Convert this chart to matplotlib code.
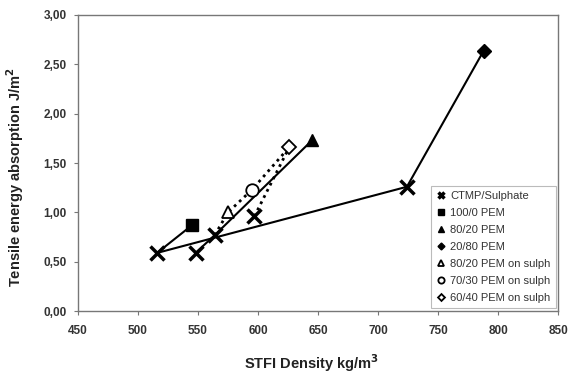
import matplotlib.pyplot as plt
from matplotlib.ticker import FuncFormatter, MultipleLocator

plt.rcParams['font.family'] = ['Liberation Sans', 'DejaVu Sans']

# CTMP/Sulphate reference points
ctmp_x = [516, 548, 564, 597, 724]
ctmp_y = [0.59, 0.59, 0.77, 0.96, 1.26]

# PEM samples
pem100_x, pem100_y = [545], [0.87]
pem8020_x, pem8020_y = [645], [1.73]
pem2080_x, pem2080_y = [788], [2.64]
sul8020_x, sul8020_y = [575], [1.00]
sul7030_x, sul7030_y = [595], [1.23]
sul6040_x, sul6040_y = [626], [1.66]

fig = plt.figure(figsize=(5.72, 3.74), dpi=100)
ax = fig.add_axes([0.136, 0.168, 0.84, 0.792])

lw = 1.5
# connecting lines
ax.plot([ctmp_x[0], pem100_x[0]], [ctmp_y[0], pem100_y[0]], color='black', lw=lw)
ax.plot([ctmp_x[0], ctmp_x[4], pem2080_x[0]], [ctmp_y[0], ctmp_y[4], pem2080_y[0]], color='black', lw=lw)
ax.plot([ctmp_x[1], ctmp_x[2], pem8020_x[0]], [ctmp_y[1], ctmp_y[2], pem8020_y[0]], color='black', lw=lw)
ax.plot([ctmp_x[2], sul8020_x[0], sul7030_x[0], sul6040_x[0]],
        [ctmp_y[2], sul8020_y[0], sul7030_y[0], sul6040_y[0]], color='black', lw=2, ls=(0, (1, 1.5)))
ax.plot([ctmp_x[3], sul6040_x[0]], [ctmp_y[3], sul6040_y[0]], color='black', lw=2, ls=(0, (1, 1.5)))

ax.plot(ctmp_x, ctmp_y, ls='none', marker='x', ms=10, mew=2.5, color='black', label='CTMP/Sulphate')
ax.plot(pem100_x, pem100_y, ls='none', marker='s', ms=9, color='black', label='100/0 PEM')
ax.plot(pem8020_x, pem8020_y, ls='none', marker='^', ms=9, color='black', label='80/20 PEM')
ax.plot(pem2080_x, pem2080_y, ls='none', marker='D', ms=7, color='black', label='20/80 PEM')
ax.plot(sul8020_x, sul8020_y, ls='none', marker='^', ms=9, mfc='white', mec='black', mew=1.3,
        label='80/20 PEM on sulph')
ax.plot(sul7030_x, sul7030_y, ls='none', marker='o', ms=9, mfc='white', mec='black', mew=1.3,
        label='70/30 PEM on sulph')
ax.plot(sul6040_x, sul6040_y, ls='none', marker='D', ms=7, mfc='white', mec='black', mew=1.3,
        label='60/40 PEM on sulph')

ax.set_xlim(450, 850)
ax.set_ylim(0, 3)
ax.xaxis.set_major_locator(MultipleLocator(50))
ax.yaxis.set_major_locator(MultipleLocator(0.5))
ax.yaxis.set_major_formatter(FuncFormatter(lambda v, p: f"{v:.2f}".replace('.', ',')))

for s in ax.spines.values():
    s.set_color('#777777')
    s.set_linewidth(1.0)
ax.tick_params(axis='both', length=3, color='#777777', labelsize=8.5, labelcolor='#333333')
ax.tick_params(axis='x', pad=7)
ax.tick_params(axis='y', pad=5)
for lab in ax.get_xticklabels() + ax.get_yticklabels():
    lab.set_fontweight('bold')

ax.set_xlabel('STFI Density kg/m$^\\mathbf{3}$', fontsize=10.5, fontweight='bold', color='#222222')
ax.set_ylabel('Tensile energy absorption J/m$^\\mathbf{2}$', fontsize=10.5, fontweight='bold', color='#222222')
ax.xaxis.set_label_coords(0.486, -0.138)
ax.yaxis.set_label_coords(-0.108, 0.453)

leg = ax.legend(loc='lower right', bbox_to_anchor=(0.995, 0.01), borderaxespad=0, fontsize=8,
                markerscale=0.5, frameon=True, fancybox=False, edgecolor='#aaaaaa', handlelength=0.8,
                handletextpad=0.4, labelspacing=0.62, borderpad=0.5)
for t in leg.get_texts():
    t.set_color('#333333')
leg.get_frame().set_linewidth(0.8)

fig.savefig('out.png', dpi=100)
